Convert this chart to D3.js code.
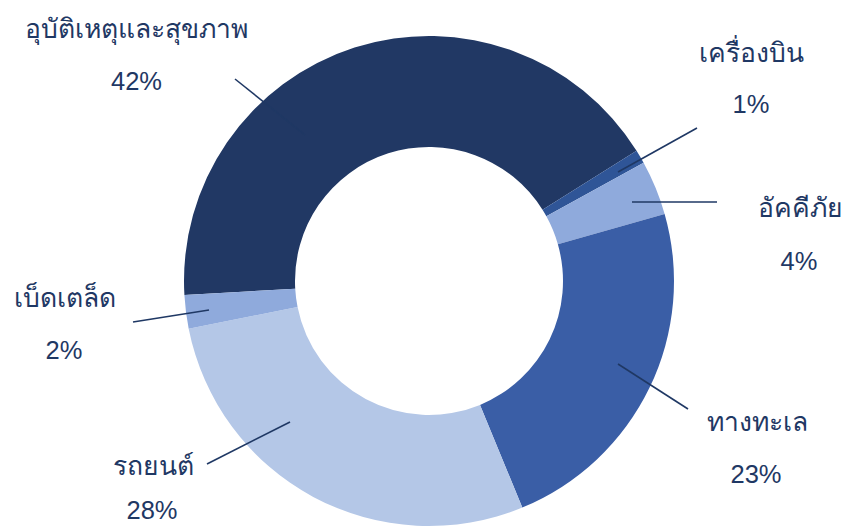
<!DOCTYPE html>
<html>
<head>
<meta charset="utf-8">
<script src="https://cdn.jsdelivr.net/npm/d3@7"></script>
<style>
  html, body { margin: 0; padding: 0; background: #ffffff; }
  svg { display: block; }
  text { font-family: "Liberation Sans", Arial, "Noto Sans", sans-serif; fill: #1F3864; }
</style>
</head>
<body>
<div id="chart"></div>
<script>
// ---- data ----
const categories = ["อุบัติเหตุและสุขภาพ", "เครื่องบิน", "อัคคีภัย", "ทางทะเล", "รถยนต์", "เบ็ดเตล็ด"];
const shares = [42.0, 0.9, 3.6, 23.2, 28.1, 2.2];
const percentLabels = ["42%", "1%", "4%", "23%", "28%", "2%"];

// ---- styles / layout ----
const colors = ["#213864", "#2F5597", "#8FAADC", "#3A5EA6", "#B4C7E7", "#8FAADC"];
const W = 843, H = 526;
const cx = 429, cy = 281, outerR = 245, innerR = 134;
const startDeg = -93.3;
// label layout: name anchor, percent anchor, leader line (outer end, inner end)
const labelLayout = [
  { name: [136.5, 38], pct: [136.5, 90], line: [[235, 79], [305, 135]] },
  { name: [751, 62],   pct: [751, 113],  line: [[697, 128], [618, 172]] },
  { name: [800, 217],  pct: [799, 270],  line: [[717, 202], [632, 202]] },
  { name: [757, 431],  pct: [756, 483],  line: [[688, 409], [618, 364]] },
  { name: [153.5, 475],pct: [152, 519],  line: [[207, 464], [290, 422]] },
  { name: [65, 307],   pct: [64, 359],   line: [[133, 322], [209, 310]] }
];

const data = categories.map((c, i) => ({ category: c, value: shares[i], label: percentLabels[i], color: colors[i], layout: labelLayout[i] }));

const svg = d3.select("#chart").append("svg").attr("width", W).attr("height", H);

const start = startDeg * Math.PI / 180;
const pie = d3.pie().value(d => d.value).sort(null).startAngle(start).endAngle(start + 2 * Math.PI);
const arc = d3.arc().innerRadius(innerR).outerRadius(outerR);

const g = svg.append("g").attr("transform", `translate(${cx},${cy})`);
g.selectAll("path.slice")
  .data(pie(data))
  .join("path")
  .attr("class", "slice")
  .attr("d", arc)
  .attr("fill", d => d.data.color);

// leader lines
svg.selectAll("line.leader")
  .data(data)
  .join("line")
  .attr("class", "leader")
  .attr("x1", d => d.layout.line[0][0])
  .attr("y1", d => d.layout.line[0][1])
  .attr("x2", d => d.layout.line[1][0])
  .attr("y2", d => d.layout.line[1][1])
  .attr("stroke", "#1F3864")
  .attr("stroke-width", 1.6);

// labels
const lab = svg.selectAll("g.label").data(data).join("g").attr("class", "label");
lab.append("text")
  .attr("x", d => d.layout.name[0])
  .attr("y", d => d.layout.name[1])
  .attr("text-anchor", "middle")
  .attr("font-size", 26.5)
  .text(d => d.category);
lab.append("text")
  .attr("x", d => d.layout.pct[0])
  .attr("y", d => d.layout.pct[1])
  .attr("text-anchor", "middle")
  .attr("font-size", 25.5)
  .text(d => d.label);
</script>
</body>
</html>
